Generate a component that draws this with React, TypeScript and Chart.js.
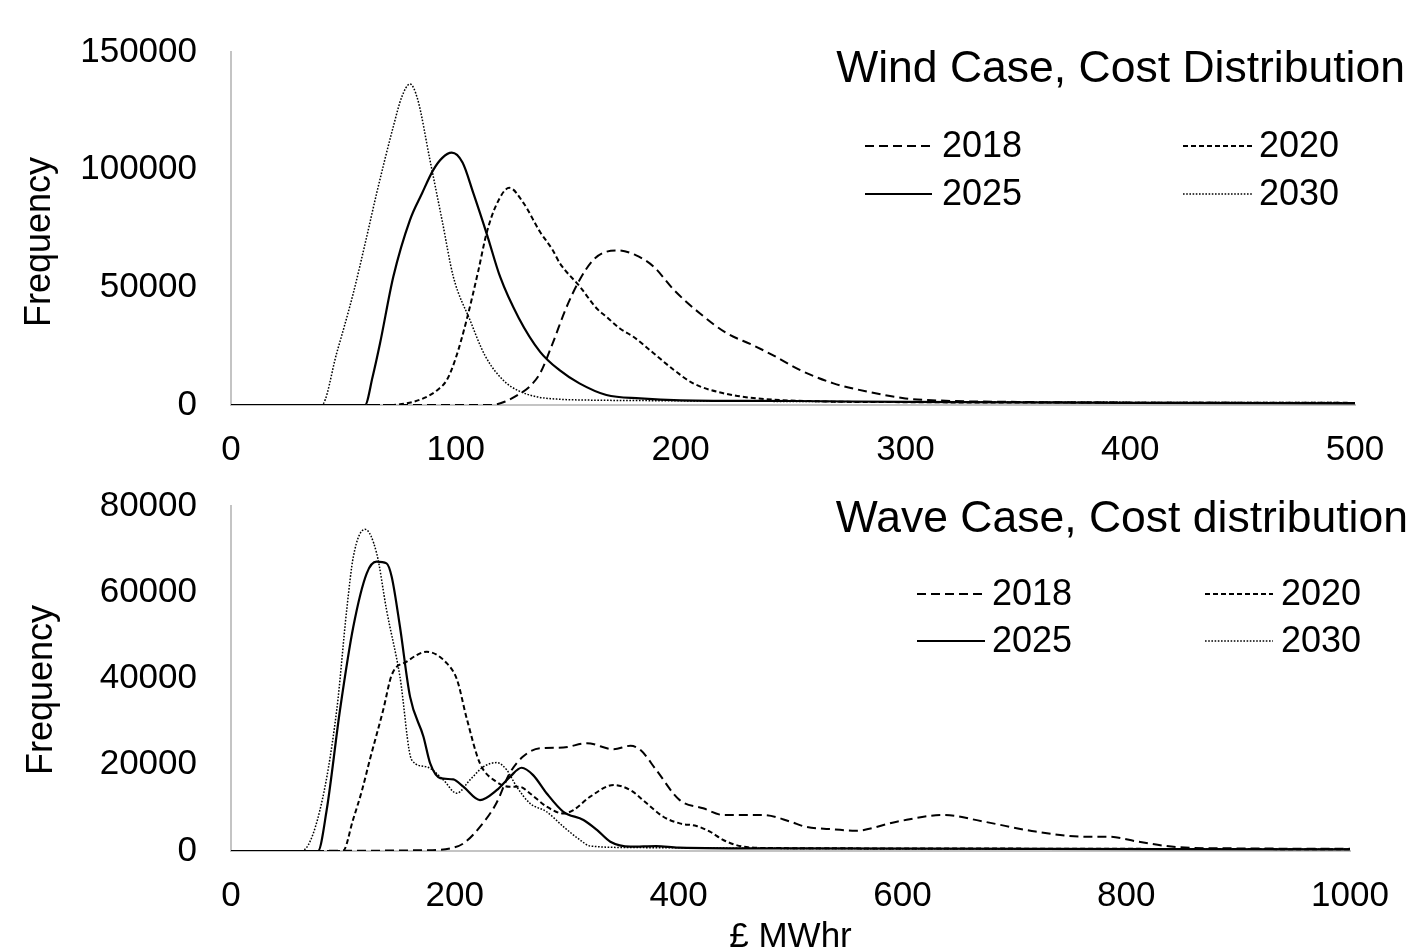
import React, { useEffect, useRef, useState } from "react";
import { Chart, registerables } from "chart.js";

Chart.register(...registerables);

const FONT = "'Liberation Sans', Arial, sans-serif";
const SERIES_NAMES = ["2018", "2020", "2025", "2030"];

// ---------- Wind case (top) ----------
const windX2018 = [0, 100, 116, 122, 128, 133, 137.5, 143, 149, 155, 161, 166, 172, 180, 188, 197, 208.5, 220.5, 232, 241, 253, 268, 283, 300, 318, 350, 400, 450, 500];
const windY2018 = [0, 0, 0, 1500, 4500, 8000, 13500, 26000, 41000, 53000, 61500, 64800, 65700, 63700, 58800, 48900, 39000, 30500, 25500, 21200, 14900, 9200, 5700, 2800, 1800, 1300, 1000, 900, 800];

const windX2020 = [0, 70, 78, 86, 92, 96, 100, 104.8, 110, 113.7, 118, 123.8, 130, 137.5, 143, 146.3, 155.2, 162.7, 167, 173, 179, 188, 197, 205.6, 219, 234, 260, 300, 400, 500];
const windY2020 = [0, 0, 700, 3000, 6500, 10600, 20000, 36100, 57000, 73000, 85000, 92300, 86000, 73500, 66000, 60200, 50300, 41000, 37500, 32500, 29000, 22000, 14900, 9200, 5000, 2800, 1600, 1200, 1000, 900];

const windX2025 = [0, 59.6, 63, 66.3, 72.2, 79.6, 85, 90, 94, 98.2, 103, 107.8, 114, 119.7, 128, 137.5, 146, 155, 167, 182, 200, 250, 300, 400, 500];
const windY2025 = [0, 0, 12000, 26200, 54500, 78600, 90000, 99900, 105000, 107200, 103000, 90000, 72000, 54500, 37000, 22600, 14900, 9200, 4250, 2800, 2000, 1700, 1300, 900, 700];

const windX2030 = [0, 40.3, 47, 54.4, 60, 64.8, 72.2, 76, 79.6, 83, 88.5, 94, 98.9, 106.3, 113, 121, 128, 136, 145, 158, 180, 250, 350, 500];
const windY2030 = [0, 0, 22000, 47500, 70000, 90000, 118300, 131000, 136400, 130000, 104100, 78000, 54500, 36100, 21000, 10600, 6000, 3500, 2500, 2100, 1900, 1500, 1200, 1000];

// ---------- Wave case (bottom) ----------
const waveX2018 = [0, 180, 196, 208, 222.5, 237, 249, 261, 276, 297, 318, 342, 357, 366, 380, 401, 422, 440, 461, 476, 500, 513, 540, 558, 595, 637, 673, 719, 765, 784, 811, 848, 900, 1000];
const waveY2018 = [0, 200, 600, 1800, 5600, 11000, 18000, 21900, 23800, 24000, 25000, 23600, 24400, 23400, 18800, 11800, 9900, 8350, 8350, 8350, 6800, 5650, 5000, 4700, 6800, 8350, 6800, 4500, 3300, 3300, 2150, 850, 600, 500];

const waveX2020 = [0, 100, 109, 117, 124, 136, 143.6, 157, 175, 193, 202, 210.6, 222.5, 237, 249, 258, 267, 282, 297, 306, 321, 342, 357, 371.5, 386, 401, 416, 428, 440, 458, 480, 600, 800, 1000];
const waveY2020 = [0, 0, 7200, 14000, 21100, 32700, 40800, 43900, 46200, 43500, 39700, 30800, 20300, 16100, 14900, 14900, 13400, 10300, 8700, 9500, 12600, 15300, 14100, 11050, 8000, 6400, 5800, 4500, 2550, 1000, 700, 600, 500, 400];

const waveX2025 = [0, 77.7, 85.5, 97.4, 109.3, 121.3, 130, 139, 143.6, 151, 160, 172, 178, 187, 198.6, 207.6, 222.5, 237.4, 249.3, 259.7, 270, 282, 297, 315, 327, 339, 357, 380, 400, 500, 1000];
const waveY2025 = [0, 0, 9500, 32700, 52000, 64400, 67100, 66700, 63600, 52000, 35800, 26500, 20300, 16900, 16600, 14900, 11800, 14100, 17200, 19300, 17600, 13400, 9100, 7200, 4900, 2150, 1000, 1150, 800, 600, 400];

const waveX2030 = [0, 63, 79.5, 94.5, 103.4, 109.3, 119.7, 130.2, 139, 151, 161.5, 175, 189.7, 201.7, 213.6, 225.5, 237.4, 246.4, 255.3, 267.2, 282, 297, 312, 321, 360, 500, 1000];
const waveY2030 = [0, 0, 9500, 32700, 55900, 68200, 74600, 69000, 55900, 40400, 21100, 19500, 16500, 13400, 16500, 19500, 20500, 18800, 14900, 11050, 9100, 5650, 2550, 1150, 800, 600, 400];

const windXTicks = { min: 0, max: 500, step: 100 };
const windYTicks = { min: 0, max: 150000, step: 50000 };
const waveXTicks = { min: 0, max: 1000, step: 200 };
const waveYTicks = { min: 0, max: 80000, step: 20000 };

const STYLES = [
  { borderDash: [9, 5], borderWidth: 2 },
  { borderDash: [5, 3], borderWidth: 2 },
  { borderDash: [], borderWidth: 2.2 },
  { borderDash: [1.6, 1.6], borderWidth: 1.5 },
];

function toPoints(xs: number[], ys: number[]) {
  return xs.map((x, i) => ({ x, y: ys[i] }));
}

function makeAnnotate(a: any) {
  return {
    id: "annotate",
    afterDraw(chart: any) {
      const ctx = chart.ctx as CanvasRenderingContext2D;
      ctx.save();
      ctx.fillStyle = "#000";
      ctx.font = `${a.titleSize}px ${FONT}`;
      ctx.textAlign = "right";
      ctx.textBaseline = "middle";
      ctx.fillText(a.title, a.titleX, a.titleY);
      ctx.font = `${a.legendSize}px ${FONT}`;
      ctx.textAlign = "left";
      chart.data.datasets.forEach((ds: any, i: number) => {
        const col = i % 2;
        const row = Math.floor(i / 2);
        const y = a.legendRows[row];
        const c = a.legendCols[col];
        ctx.save();
        ctx.strokeStyle = "#000";
        ctx.lineWidth = ds.borderWidth;
        ctx.setLineDash(ds.borderDash || []);
        ctx.beginPath();
        ctx.moveTo(c[0], y);
        ctx.lineTo(c[1], y);
        ctx.stroke();
        ctx.restore();
        ctx.fillText(ds.label, c[2], y + 1);
      });
      ctx.font = `${a.yTitleSize}px ${FONT}`;
      ctx.translate(a.yTitleX, a.yTitleY);
      ctx.rotate(-Math.PI / 2);
      ctx.textAlign = "center";
      ctx.textBaseline = "middle";
      ctx.fillText("Frequency", 0, 0);
      ctx.restore();
    },
  };
}

function makeConfig(opts: any): any {
  const datasets = opts.series.map((s: any, i: number) => ({
    label: SERIES_NAMES[i],
    data: toPoints(s[0], s[1]),
    borderColor: "#000",
    backgroundColor: "#000",
    borderWidth: STYLES[i].borderWidth,
    borderDash: STYLES[i].borderDash,
    pointRadius: 0,
    fill: false,
    cubicInterpolationMode: "monotone",
  }));
  const xScale: any = {
    type: "linear",
    min: opts.xt.min,
    max: opts.xt.max,
    ticks: {
      stepSize: opts.xt.step,
      color: "#000",
      font: { size: 35, family: FONT },
      padding: 24,
      maxRotation: 0,
      autoSkip: false,
      callback: (v: any) => String(v),
    },
    grid: { display: false, drawTicks: false },
    border: { display: true, color: "#c4c4c4", width: 2 },
    afterFit: (s: any) => {
      s.height = opts.xHeight;
      s.paddingLeft = 0;
      s.paddingRight = 0;
    },
  };
  if (opts.xTitle) {
    xScale.title = { display: true, text: opts.xTitle, color: "#000", font: { size: 35, family: FONT, lineHeight: 0.75 }, padding: { top: 0, bottom: -2 } };
  }
  return {
    type: "line",
    data: { datasets },
    plugins: [makeAnnotate(opts.annotate)],
    options: {
      responsive: false,
      animation: false,
      devicePixelRatio: 1,
      layout: { padding: { top: opts.padTop, right: opts.padRight, left: 0, bottom: 0 } },
      plugins: {
        legend: { display: false },
        tooltip: { enabled: false },
      },
      scales: {
        x: xScale,
        y: {
          type: "linear",
          min: opts.yt.min,
          max: opts.yt.max,
          ticks: {
            stepSize: opts.yt.step,
            color: "#000",
            font: { size: 35, family: FONT },
            padding: 34,
            callback: (v: any) => String(v),
          },
          grid: { display: false, drawTicks: false },
          border: { display: true, color: "#c4c4c4", width: 2 },
          afterFit: (s: any) => {
            s.width = 231;
            s.paddingTop = 0;
            s.paddingBottom = 0;
          },
        },
      },
    },
  };
}

const windOpts = {
  series: [
    [windX2018, windY2018],
    [windX2020, windY2020],
    [windX2025, windY2025],
    [windX2030, windY2030],
  ],
  xt: windXTicks,
  yt: windYTicks,
  padTop: 52,
  padRight: 58,
  xHeight: 65,
  annotate: {
    title: "Wind Case, Cost Distribution",
    titleSize: 44.5,
    titleX: 1405,
    titleY: 70,
    legendSize: 36,
    legendRows: [146, 194],
    legendCols: [
      [865, 932, 942],
      [1183, 1252, 1259],
    ],
    yTitleSize: 36,
    yTitleX: 40,
    yTitleY: 242,
  },
};

const waveOpts = {
  series: [
    [waveX2018, waveY2018],
    [waveX2020, waveY2020],
    [waveX2025, waveY2025],
    [waveX2030, waveY2030],
  ],
  xt: waveXTicks,
  yt: waveYTicks,
  padTop: 36,
  padRight: 63,
  xHeight: 97,
  xTitle: "£ MWhr",
  annotate: {
    title: "Wave Case, Cost distribution",
    titleSize: 44.5,
    titleX: 1408,
    titleY: 50,
    legendSize: 36,
    legendRows: [124, 171],
    legendCols: [
      [917, 985, 992],
      [1205, 1273, 1281],
    ],
    yTitleSize: 36,
    yTitleX: 42,
    yTitleY: 220,
  },
};

export default function App() {
  const topRef = useRef<HTMLCanvasElement>(null);
  const botRef = useRef<HTMLCanvasElement>(null);
  const [err, setErr] = useState("");
  useEffect(() => {
    let c1: any = null;
    let c2: any = null;
    try {
      c1 = new Chart(topRef.current as HTMLCanvasElement, makeConfig(windOpts));
      c2 = new Chart(botRef.current as HTMLCanvasElement, makeConfig(waveOpts));
    } catch (e: any) {
      setErr(String(e && e.stack ? e.stack : e));
    }
    return () => {
      if (c1) c1.destroy();
      if (c2) c2.destroy();
    };
  }, []);
  return (
    <div>
      <canvas
        ref={topRef}
        width={1413}
        height={470}
        style={{ position: "absolute", left: 0, top: 0, width: 1413, height: 470, display: "block" }}
      />
      <canvas
        ref={botRef}
        width={1413}
        height={478}
        style={{ position: "absolute", left: 0, top: 470, width: 1413, height: 478, display: "block" }}
      />
      {err ? <pre style={{ position: "absolute", left: 10, top: 10, color: "red", fontSize: 14 }}>{err}</pre> : null}
    </div>
  );
}
